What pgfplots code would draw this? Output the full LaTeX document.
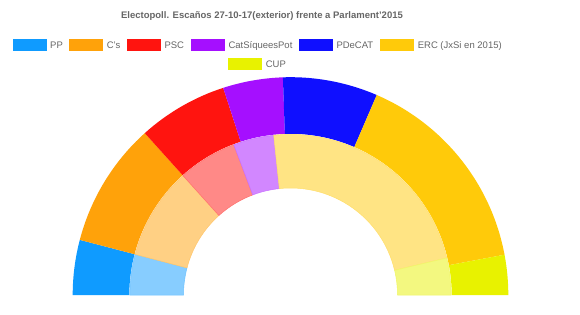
\documentclass[border=0pt]{standalone}
\usepackage{fontspec}
\setmainfont{Liberation Sans}
\usepackage{pgfplots}
\usepackage{pgfplotstable}
\pgfplotsset{compat=1.18}

\definecolor{cPP}{RGB}{15,155,255}
\definecolor{cCs}{RGB}{255,162,10}
\definecolor{cPSC}{RGB}{255,20,15}
\definecolor{cCSQP}{RGB}{165,15,255}
\definecolor{cPDeCAT}{RGB}{15,15,255}
\definecolor{cERC}{RGB}{255,202,10}
\definecolor{cCUP}{RGB}{232,242,0}
\definecolor{txt}{RGB}{102,102,102}

% seats: outer = Electopoll 27-10-17, inner = Parlament 2015
\pgfplotstableread{
party outer inner col
PP 11 11 cPP
Cs 25 25 cCs
PSC 18 16 cPSC
CSQP 12 11 cCSQP
PDeCAT 19 0 cPDeCAT
ERC 42 62 cERC
CUP 8 10 cCUP
}\seats

\begin{document}
\begin{tikzpicture}
\fill[white] (0,0) rectangle (580pt,314pt);
\path[use as bounding box] (0,0) rectangle (580pt,314pt);

\begin{axis}[
  hide axis, clip=false, disabledatascaling,
  x=1pt, y=1pt,
  xmin=-217.8, xmax=217.8, ymin=0, ymax=217.8,
  at={(72.7pt,19pt)}, anchor=south west,
]
\addplot[draw=none] coordinates {(-217.8,0) (217.8,217.8)};
\pgfplotstablegetrowsof{\seats}
\pgfmathtruncatemacro\nrows{\pgfplotsretval-1}
\def\cumO{0}\def\cumI{0}
\pgfplotsforeachungrouped \i in {0,...,\nrows}{%
  \pgfplotstablegetelem{\i}{outer}\of\seats \let\vO\pgfplotsretval
  \pgfplotstablegetelem{\i}{inner}\of\seats \let\vI\pgfplotsretval
  \pgfplotstablegetelem{\i}{col}\of\seats \let\vC\pgfplotsretval
  \pgfmathsetmacro\aO{180-\cumO/135*180}%
  \pgfmathsetmacro\cumO{\cumO+\vO}%
  \pgfmathsetmacro\bO{180-\cumO/135*180}%
  \edef\temp{\noexpand\fill[\vC] (axis cs:{161.2*cos(\aO)},{161.2*sin(\aO)}) arc[start angle=\aO, end angle=\bO, radius=161.2pt] -- (axis cs:{217.8*cos(\bO)},{217.8*sin(\bO)}) arc[start angle=\bO, end angle=\aO, radius=217.8pt] -- cycle;}%
  \temp
  \pgfmathsetmacro\aI{180-\cumI/135*180}%
  \pgfmathsetmacro\cumI{\cumI+\vI}%
  \pgfmathsetmacro\bI{180-\cumI/135*180}%
  \pgfmathparse{\vI>0?1:0}%
  \ifnum\pgfmathresult=1
  \edef\temp{\noexpand\filldraw[fill=\vC!50!white, draw=\vC!60!white, line width=0.5pt] (axis cs:{107*cos(\aI)},{107*sin(\aI)}) arc[start angle=\aI, end angle=\bI, radius=107pt] -- (axis cs:{160.6*cos(\bI)},{160.6*sin(\bI)}) arc[start angle=\bI, end angle=\aI, radius=160.6pt] -- cycle;}%
  \temp
  \fi
}
\end{axis}

% title
\node[font=\bfseries\fontsize{9.5}{11}\selectfont, text=txt, inner sep=0] at (262pt,298pt) {Electopoll. Escaños 27-10-17(exterior) frente a Parlament'2015};

% legend
\newcommand\legitem[4]{%
  \fill[#1] (#2pt,#3pt-6pt) rectangle ++(34pt,12pt);
  \node[anchor=west, inner sep=0, text height=6.8pt, text depth=0pt, text=txt, font=\fontsize{9.5}{11}\selectfont] at (#2pt+37.3pt,#3pt) {#4};
}
\legitem{cPP}{12.7}{269}{PP}
\legitem{cCs}{69.3}{269}{C's}
\legitem{cPSC}{127}{269}{PSC}
\legitem{cCSQP}{191}{269}{CatSíqueesPot}
\legitem{cPDeCAT}{299}{269}{PDeCAT}
\legitem{cERC}{380.3}{269}{ERC (JxSi en 2015)}
\legitem{cCUP}{228.3}{250.3}{CUP}
\end{tikzpicture}
\end{document}
